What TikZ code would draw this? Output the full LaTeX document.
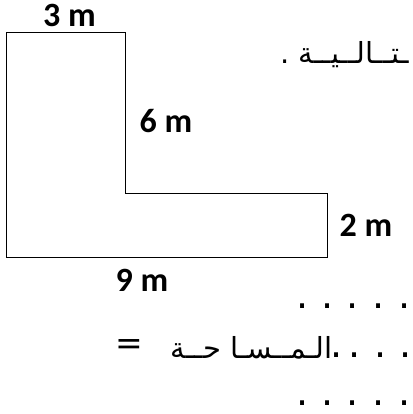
\documentclass[tikz,border=0pt]{standalone}
\usepackage{fontspec}
\setmainfont{Carlito}
\newfontfamily\arabicfont[Script=Arabic]{DejaVu Sans}
\TeXXeTstate=1
\usetikzlibrary{calc}

\begin{document}
\begin{tikzpicture}[x=1pt,y=-1pt,
    side/.style={font=\fontsize{34}{40}\selectfont\bfseries, inner sep=0pt},
    artext/.style={font=\arabicfont\fontsize{29}{34}\selectfont, inner sep=0pt},
    dotmark/.style={font=\arabicfont\fontsize{38}{40}\selectfont, inner sep=0pt}]
    \useasboundingbox (0,0) rectangle (412,414);
    \clip (0,0) rectangle (412,414);

    % the L shaped floor
    \coordinate (A) at (6,33);
    \coordinate (B) at (125,33);
    \coordinate (C) at (125,193);
    \coordinate (D) at (327,193);
    \coordinate (E) at (327,257);
    \coordinate (F) at (6,257);
    \draw [line width=1pt] (A) -- (B) -- (C) -- (D) -- (E) -- (F) -- cycle;

    \node (top) at ($(A)!.5!(B) + (4,-18)$) [side] {3 m};
    \node (inner) at ($(B)!.55!(C) + (41,0)$) [side] {6 m};
    \node (right) at ($(D)!.5!(E) + (39,0)$) [side] {2 m};
    \node (bottom) at ($(F) + (136,23)$) [side] {9 m};

    % text on the right
    \node (next) at (280,64) [artext, anchor=base west] {\beginR ـتــالــيــة .\endR};
    \node (area) at (333,358) [artext, anchor=base east] {\beginR الـمــسـا حــة\endR};
    \node (eq) at (129,347) [artext, font=\arabicfont\fontsize{33}{36}\selectfont] {=};

    \foreach \x in {303,328,353,379,405}
        {
            \node at (\x,306) [dotmark] {.};
            \node at (\x,403) [dotmark] {.};
        }
    \foreach \x in {337,355,381,406}
        \node at (\x,355) [dotmark] {.};

\end{tikzpicture}
\end{document}
